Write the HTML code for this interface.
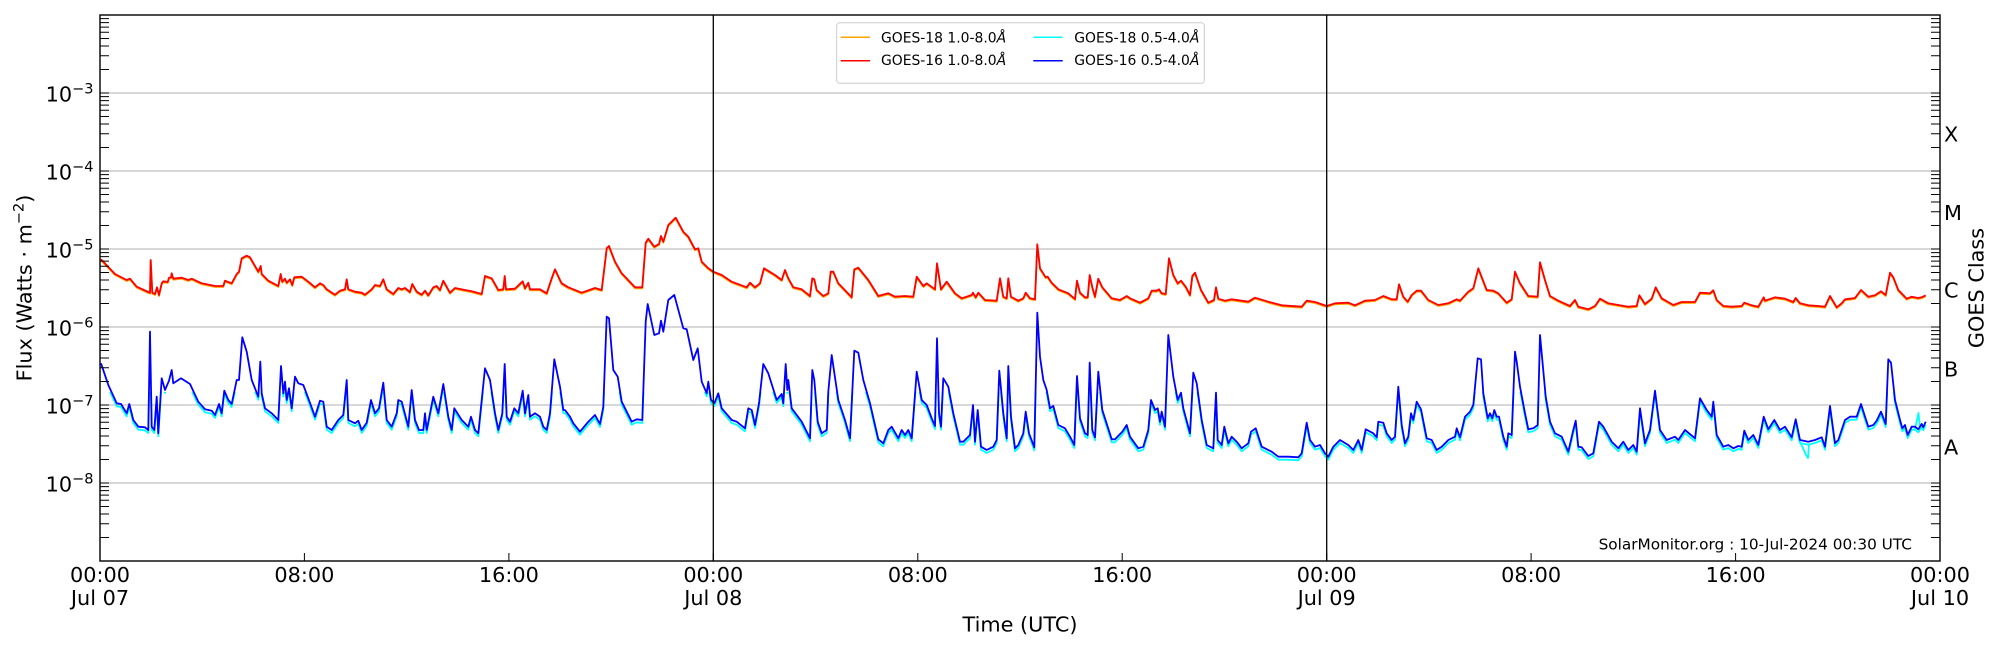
<!DOCTYPE html>
<html><head><meta charset="utf-8"><style>
html,body{margin:0;padding:0;background:#fff;}
svg{display:block;}
text{font-family:"DejaVu Sans","Liberation Sans",sans-serif;fill:#000;}
</style></head><body>
<svg width="2000" height="650" viewBox="0 0 2000 650" xmlns="http://www.w3.org/2000/svg">
<defs>
<clipPath id="plot"><rect x="100" y="15" width="1840" height="546"/></clipPath>
<clipPath id="low"><rect x="100" y="392" width="1840" height="169"/></clipPath>
<g id="yt">
<path d="M0,483h9M0,405h9M0,327h9M0,249h9M0,171h9M0,93h9
M0,537.5h9M0,523.8h9M0,514h9M0,506.5h9M0,500.3h9M0,495.1h9M0,490.6h9M0,486.6h9
M0,459.5h9M0,445.8h9M0,436h9M0,428.5h9M0,422.3h9M0,417.1h9M0,412.6h9M0,408.6h9
M0,381.5h9M0,367.8h9M0,358h9M0,350.5h9M0,344.3h9M0,339.1h9M0,334.6h9M0,330.6h9
M0,303.5h9M0,289.8h9M0,280h9M0,272.5h9M0,266.3h9M0,261.1h9M0,256.6h9M0,252.6h9
M0,225.5h9M0,211.8h9M0,202h9M0,194.5h9M0,188.3h9M0,183.1h9M0,178.6h9M0,174.6h9
M0,147.5h9M0,133.8h9M0,124h9M0,116.5h9M0,110.3h9M0,105.1h9M0,100.6h9M0,96.6h9
M0,69.5h9M0,55.8h9M0,46h9M0,38.5h9M0,32.3h9M0,27.1h9M0,22.6h9M0,18.6h9" stroke="#000" stroke-width="1" fill="none"/>
</g>
<polyline id="R" points="101,259.3 115,274 126.7,280 130,278.7 136.7,286.7 148.3,292 150,292.7 150.7,260 152.3,292.7 155,294 157,287.3 159,295 161.7,283.3 163.3,281.3 167.7,282 169,277.7 171,277.3 171.7,273.3 173.3,278.7 181.7,277.7 188.3,280 191.7,278.7 201.7,283.3 215,286 223.3,286 225,280.7 231.7,283.3 236.7,274 239,271.7 241.7,258.3 246.7,255.7 250,257.3 258.3,271.7 260.7,266 261.7,274 268.3,280.7 278.3,286 280.7,274 282.3,281.7 285,278.7 286.7,282.7 290,279.3 292.3,285 294.3,277.3 301.7,276.7 308.3,281.7 315,287.3 320,283.3 323.3,285 326.7,289.3 335,294.7 340,290.7 345,289.3 346.7,279.3 348.3,289.3 355,291.7 361.7,292.7 365,294.7 371.7,289.3 375,285 380,286 383.3,279.3 386.7,289.3 393.3,294 398.3,288 401.7,289.3 405,288 410,292 412.3,284 416.7,291.7 421.7,294.7 425,290.7 428.3,295.3 433.3,287.3 436.7,286 440,290 443.3,280.7 450,292.7 455,288 465,290 471.7,291.3 481.7,294 485,276 491.7,278.3 498.3,290 503.3,289.3 504.7,276 506,289.3 515,288.7 522.7,281.3 525,288.3 528.3,282.7 530,289.3 540,289.3 546.7,293.3 551.7,278.3 555,269.3 560,280 561.7,283.3 568.3,287.3 581.7,292.7 595,288 601.7,290 606.7,248.3 609,246 615,261.7 621.7,273.3 635,287.3 642.3,287.3 645.7,242.7 648.3,238.7 654.3,246.7 659,244 661,236 663.3,241.7 668.3,225 675.7,217.7 683.3,231.7 688.3,236.7 695,249.3 698.3,248.3 701.7,261.7 708.3,268.3 713.3,271.7 721.7,275 731.7,281.7 746.7,287.3 750,282.7 755,287.3 760,283.3 764,268.3 775,275 781.7,280 785,270 788.3,278.3 793.3,287.3 801.7,289.3 810,296 812.3,278.3 814.3,279.3 816.7,290 823.3,296 828.3,293.3 830.7,271.7 833.3,271.7 838.3,283.3 851.7,297.3 854.3,269.3 858.3,267.7 868.3,280 878.3,296 888.3,293.3 895,296.7 905,296 913.3,296.7 916.7,276.7 923.3,286 926.7,283.3 935,289.3 937,263.3 941,289.3 946.7,281.7 955,293.3 961.7,298.3 971.7,295 973,292.7 975.7,297.3 978.3,292.7 985,300 996.7,300.7 1000,278.3 1003.3,296.7 1006.7,298.3 1008.3,278.3 1011,296.7 1018.3,300.7 1023.3,298.3 1025.7,292.7 1030,298.3 1035,299.3 1037.3,244.3 1040,268.3 1045.7,277.3 1047.7,276.7 1051.7,282.7 1058.3,289.3 1068.3,293.3 1075,299 1077,280.7 1080,292.7 1085,297.3 1087.7,297.3 1089.7,275 1092.3,287.3 1095,296.7 1098.3,278.7 1102.3,287.3 1111.7,298.3 1120,300 1126.7,296 1130,298.3 1140,302.7 1148.3,298.3 1151.7,290.7 1156.7,290.7 1159,289.3 1161.7,293.3 1165.7,294 1169,258.3 1173.3,275 1177.7,283.3 1181,280.7 1185.7,286.7 1190,295 1192.3,276 1195,272.7 1201,290 1208.3,302.7 1214,300 1216,287.3 1218.3,298.7 1225,300.7 1231.7,299.3 1248.3,301.7 1255,297.7 1268.3,301.7 1281.7,305.3 1301.7,306.7 1306.7,300.7 1315,302 1326.7,306 1335,303.3 1348.3,302.7 1355,305.3 1365,300.7 1375,300 1383.3,296 1391.7,299.3 1396.7,299.3 1399,284.3 1403.3,296.7 1407.7,301.7 1411.7,295 1416.7,290.7 1421,290.7 1428.3,300 1438.3,305 1448.3,303.3 1456.7,299.3 1460,300.7 1468.3,291.7 1473.3,288.3 1478.3,268.3 1486.7,290 1493.3,290.7 1498.3,293.3 1506.7,302.7 1511.7,299.3 1515,271.7 1520,283.3 1528.3,296 1537.7,296.7 1540,262.3 1545,280 1550,296 1558.3,300.7 1570,306 1575,300 1578.3,306.7 1588.3,309.3 1595,306 1600,298.7 1608.3,303.3 1618.3,305 1628.3,306.7 1636.7,306 1639.3,295.3 1645,304 1651.7,298.7 1655.7,287.3 1661.7,298.3 1673.3,305 1681.7,302 1695,302 1700,292.7 1710,293.3 1713.3,290.3 1716.7,300 1723.3,306 1731.7,306.7 1741.7,306 1744.3,302.7 1751.7,305.3 1758.3,306.7 1763.7,297.3 1765,300.7 1775,297.3 1785,298.7 1793.3,302 1795.7,298 1800,303.3 1808.3,305.3 1818.3,306 1825,306.7 1830,296 1836.7,307.3 1841.7,303.3 1845,299.3 1855,298 1861,290 1868.3,296.7 1875,295.3 1881,291.3 1885.7,295 1890,272.7 1893.3,277.3 1898.3,290 1906.7,298.7 1911.7,296.7 1918.3,298 1921.7,297.3 1925.7,295.3"/>
<polyline id="B" points="101,363.3 108.3,385 116.7,403.3 121,404 126.7,413.3 129.3,404 133.3,420 138.3,426.7 145,427.3 148.3,430 150,331.7 151.7,426.7 154.3,430 156.7,396.7 158.3,433.3 161.7,378.3 165,390 169,380.7 171.7,370 173.3,383.3 181,378.3 190,384 198.3,401.7 205,409.3 211.7,410.7 215,415 219,404 221.7,413.3 224.3,390.7 228.3,400 231.7,404 236.7,380 239,380 242.3,337.3 246.7,351.7 251.7,380 258.3,396.7 260.3,361.7 261.7,393.3 265,408.3 271.7,413.3 278.3,420 281,366 283.3,393.3 285,381.7 286.7,400 289,388.3 291.7,408.3 295,376.7 298.3,383.3 303.3,385 308.3,398.3 315,416.7 320,400.7 323.3,401.7 326.7,426.7 331.7,430 338.3,420 343.3,415 346.7,380 348.3,420 355,423.3 358.3,420.7 361.7,430 366.7,422.7 371,400 375,413.3 379,408.3 383.3,382.7 386.7,420 391.7,426.7 396.7,413.3 398.3,400 401.7,401.7 408.3,426.7 411.7,390 415,420 419,430 423.3,430 425,413.3 426.7,430 433.3,396.7 438.3,413.3 443.3,384 448.3,416.7 451.7,430 454.3,408.3 461.7,420 468.3,426.7 471,416.7 475,430 478.3,433.3 485,368.3 490,380 495,413.3 498.3,430 502.3,413.3 504.7,364 506.7,416.7 510,421.7 514.3,408.3 518.3,413.3 522.7,390.7 525,413.3 528.3,395 530,416.7 535,413.3 540,416.7 543.3,426.7 546.7,430 550,413.3 554.3,359.3 560,386.7 563.3,410 565,410 570,416.7 573.3,423.3 580,431.7 588.3,421.7 595,415 600,424 603.3,406.7 606.7,316.7 609,318.3 613.3,370 617.7,376.7 621.7,401.7 631.7,421.7 636.7,419.3 642.3,420 645.7,321.7 647.7,304 654.3,335 659,333.3 661,320.7 663.3,331.7 668.3,300 674.3,295 683.3,328.3 686.7,329.3 693.3,360 697.7,348.3 701.7,381.7 706.7,393.3 708.3,381.7 711,400 714.3,403.3 718.3,393.3 721.7,408.3 731.7,420 736.7,421.7 745,428.3 748.3,408.3 751.7,410 755,425 759,403.3 763.3,364 768.3,373.3 776.7,400 781.7,394 783.3,403.3 785.7,364 787.3,390 788.3,380 791.7,408.3 801.7,421.7 810,438.3 812.3,370 814.3,380 817.7,421.7 821.7,433.3 826.7,430 828.3,391.7 831.7,355 838.3,400 845,420 850,438.3 854.3,350.7 858.3,352.7 863.3,380 870,403.3 878.3,439.3 883.3,443.3 888.3,430 891.7,426.7 898.3,438.3 901.7,430 905,435 908.3,430 911.7,438.3 916.7,371.7 921.7,400 926.7,405 931.7,418.3 935,426 937,338.3 939,413.3 941,426.7 943.3,378.3 948.3,386.7 953.3,413.3 960,441.7 963.3,441.7 970,435 973,405 975,441.7 977.7,410 981,446.7 986.7,450 993.3,446.7 996.7,440 999.3,370.7 1003.3,413.3 1006.7,438.3 1008.3,366 1011,416.7 1015,448.3 1018.3,445 1023.3,433.3 1025.7,411.7 1029,433.3 1034.3,447.3 1037.3,312.7 1040,356.7 1043.3,380 1046.7,390 1050,408.3 1053.3,406 1058.3,425 1065,428.3 1070,436.7 1074.3,445 1077,376 1080,418.3 1085,433.3 1087.7,435 1089.7,362.7 1092.3,430 1095,437.3 1098.3,371.7 1102.3,410 1111.7,439.3 1115,439.3 1122.3,431.7 1126.7,425 1130,436.7 1138.3,448.3 1143.3,446.7 1148.3,430 1151,400 1155,410 1157.7,408.3 1160,421.7 1161.7,411.7 1165,426.7 1168.3,335 1173.3,376.7 1177.7,400 1181,392.7 1183.3,408.3 1190,433.3 1193.3,372.7 1196.7,383.3 1201.7,420 1206.7,445 1213.3,448.3 1216,392.7 1217.7,440 1221.7,445 1224.3,426.7 1228.3,443.3 1231.7,436.7 1236.7,441.7 1241.7,448.3 1248.3,443.3 1251,431.7 1255.7,428.3 1261.7,446.7 1271.7,451.7 1278.3,456.7 1288.3,456.7 1298.3,457.3 1301.7,453.3 1306.7,422.7 1310,440 1315,446.7 1320,445 1325,453.3 1328.3,456.7 1333.3,446.7 1340,440 1348.3,445 1353.3,450 1358.3,440 1361.7,450 1365.7,429.3 1373.3,433.3 1376.7,437.3 1378.3,421.7 1383.3,422.7 1386.7,433.3 1391.7,440 1395,436.7 1398.3,386.7 1401.7,425 1405,443.3 1408.3,436.7 1411,413.3 1413.3,420 1416.7,401.7 1421,409.3 1426.7,438.3 1431.7,440 1436.7,450 1441.7,446.7 1448.3,440 1455,436.7 1456.7,428.3 1460,437.3 1465,416.7 1470,411.7 1473.3,405 1477.7,358.3 1481,359.3 1483.3,393.3 1487.7,418.3 1490,413.3 1492.3,418.3 1494.3,410 1496.7,416.7 1499,416.7 1503.3,436.7 1506.7,446.7 1508.3,433.3 1511.7,435 1515,351.7 1516.7,361.7 1520,386.7 1525,413.3 1528.3,429.3 1533.3,428.3 1537.7,425 1540,335 1545.7,396.7 1550,421.7 1555,433.3 1561.7,436.7 1568.3,451.7 1573.3,430 1575.7,420.7 1578.3,446.7 1581.7,447.3 1588.3,456 1593.3,453.3 1595.7,440 1599,421.7 1603.3,426.7 1611.7,441.7 1618.3,448.3 1623.3,441.7 1628.3,450 1633.3,445 1636.7,451.7 1640,408.3 1645,443.3 1650,430 1655,390.7 1660,430 1666.7,440 1675,436.7 1678.3,440 1685,430 1695,438.3 1700,398.3 1706.7,410 1711.7,416.7 1713.3,401.7 1716.7,435 1723.3,446.7 1728.3,445 1733.3,448.3 1738.3,446 1741.7,446.7 1744.3,430.7 1748.3,440 1753.3,435 1758.3,445 1763.7,416.7 1768.3,429.3 1774.3,420 1780,430 1785,426.7 1791.7,437.3 1795.7,419.3 1800,440 1808.3,441.7 1815,440 1821.7,437.3 1825,446.7 1830,406 1835,443.3 1838.3,440 1845,420 1850,416.7 1856.7,416.7 1861,404 1865,416.7 1868.3,426.7 1873.3,425 1876.7,420.7 1881,411.7 1885.7,424 1888.3,359.3 1891,362.7 1895,400 1900,420 1902.3,428.3 1905,425 1907.7,435 1911.7,426.7 1915,426.7 1918.3,429.3 1921.7,424 1923.3,427.3 1925.7,421.7"/>
</defs>

<!-- grid -->
<g stroke="#b0b0b0" stroke-width="1">
<line x1="100" y1="93" x2="1940" y2="93"/>
<line x1="100" y1="171" x2="1940" y2="171"/>
<line x1="100" y1="249" x2="1940" y2="249"/>
<line x1="100" y1="327" x2="1940" y2="327"/>
<line x1="100" y1="405" x2="1940" y2="405"/>
<line x1="100" y1="483" x2="1940" y2="483"/>
</g>

<g clip-path="url(#plot)" fill="none" stroke-linejoin="round" stroke-width="1.8">
<use href="#R" transform="translate(0,1)" stroke="#ffa500"/>
<use href="#R" stroke="#ff0000"/>
<g clip-path="url(#low)">
<use href="#B" transform="translate(0,3)" stroke="#00ffff"/>
<polyline stroke="#00ffff" points="1795.7,422 1799,440 1803,448 1806,455 1808,458 1809,444"/>
<polyline stroke="#00ffff" points="1915,429 1917,420 1918.5,413 1920,428"/>
</g>
<use href="#B" stroke="#0000ff"/>
</g>

<!-- day separators -->
<line x1="713.3" y1="15" x2="713.3" y2="561" stroke="#000" stroke-width="1.3"/>
<line x1="1326.7" y1="15" x2="1326.7" y2="561" stroke="#000" stroke-width="1.3"/>

<!-- y ticks -->
<use href="#yt" transform="translate(100,0)"/>
<use href="#yt" transform="translate(1940,0) scale(-1,1)"/>
<!-- x ticks -->
<path d="M304.4,561v-8M508.9,561v-8M713.3,561v-8M917.8,561v-8M1122.2,561v-8M1326.7,561v-8M1531.1,561v-8M1735.6,561v-8" stroke="#000" stroke-width="1"/>

<!-- frame -->
<rect x="100" y="15" width="1840" height="546" fill="none" stroke="#000" stroke-width="1.4"/>

<!-- y tick labels -->
<g font-size="20.8" text-anchor="end">
<text x="93.5" y="101.7">10<tspan dy="-8.4" font-size="14.5">−3</tspan></text>
<text x="93.5" y="179.7">10<tspan dy="-8.4" font-size="14.5">−4</tspan></text>
<text x="93.5" y="257.7">10<tspan dy="-8.4" font-size="14.5">−5</tspan></text>
<text x="93.5" y="335.7">10<tspan dy="-8.4" font-size="14.5">−6</tspan></text>
<text x="93.5" y="413.7">10<tspan dy="-8.4" font-size="14.5">−7</tspan></text>
<text x="93.5" y="491.7">10<tspan dy="-8.4" font-size="14.5">−8</tspan></text>
</g>

<!-- right class labels -->
<g font-size="20.8">
<text x="1944" y="141.7">X</text>
<text x="1944" y="220">M</text>
<text x="1944" y="297.7">C</text>
<text x="1944" y="376.7">B</text>
<text x="1944" y="454.3">A</text>
</g>

<!-- x tick labels -->
<g font-size="20.8" text-anchor="middle">
<text x="100" y="582">00:00</text><text x="100" y="605">Jul 07</text>
<text x="304.4" y="582">08:00</text>
<text x="508.9" y="582">16:00</text>
<text x="713.3" y="582">00:00</text><text x="713.3" y="605">Jul 08</text>
<text x="917.8" y="582">08:00</text>
<text x="1122.2" y="582">16:00</text>
<text x="1326.7" y="582">00:00</text><text x="1326.7" y="605">Jul 09</text>
<text x="1531.1" y="582">08:00</text>
<text x="1735.6" y="582">16:00</text>
<text x="1940" y="582">00:00</text><text x="1940" y="605">Jul 10</text>
</g>

<!-- axis labels -->
<text x="1020" y="631.7" font-size="20.8" text-anchor="middle">Time (UTC)</text>
<text transform="translate(31.5,288) rotate(-90)" font-size="20.8" text-anchor="middle">Flux (Watts · m<tspan dy="-8" font-size="14.5">−2</tspan><tspan dy="8">)</tspan></text>
<text transform="translate(1983.5,288) rotate(-90)" font-size="20.8" text-anchor="middle">GOES Class</text>

<!-- watermark -->
<text x="1912" y="549.3" font-size="15.3" text-anchor="end">SolarMonitor.org : 10-Jul-2024 00:30 UTC</text>

<!-- legend -->
<rect x="836.7" y="22.7" width="367.6" height="60.6" rx="3" ry="3" fill="#fff" fill-opacity="0.85" stroke="#cccccc" stroke-width="1"/>
<g stroke-width="1.5">
<line x1="840.7" y1="37.3" x2="870" y2="37.3" stroke="#ffa500"/>
<line x1="840.7" y1="60.7" x2="870" y2="60.7" stroke="#ff0000"/>
<line x1="1033.3" y1="37.3" x2="1062.7" y2="37.3" stroke="#00ffff"/>
<line x1="1033.3" y1="60.7" x2="1062.7" y2="60.7" stroke="#0000ff"/>
</g>
<g font-size="13.9">
<text x="881" y="42.3">GOES-18 1.0-8.0<tspan font-style="italic">Å</tspan></text>
<text x="881" y="65">GOES-16 1.0-8.0<tspan font-style="italic">Å</tspan></text>
<text x="1074.3" y="42.3">GOES-18 0.5-4.0<tspan font-style="italic">Å</tspan></text>
<text x="1074.3" y="65">GOES-16 0.5-4.0<tspan font-style="italic">Å</tspan></text>
</g>
</svg>
</body></html>
